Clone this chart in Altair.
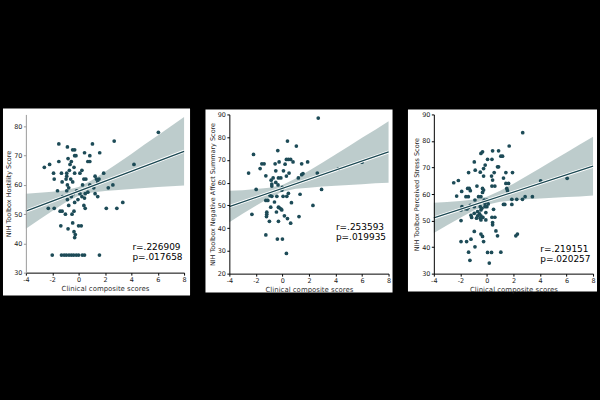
import altair as alt
import pandas as pd

FONT = "DejaVu Sans"
POINT = "#1d4b57"
BAND = "#b9c9c9"
LINE = "#1b4852"

# ---------- Panel A: Hostility ----------
a_x = [6.05, 2.7, -1.5, 1.05, -0.85, -0.45, -0.3, 0.45, 1.6, -0.3, -0.2, 0.85, -0.8, -2.2, -2.6, -1.5,
       -0.55, 0.7, 0.85, -0.65, -0.35, 4.2, -1.9, -1.3, -0.9, -0.9, -0.3, 0.1, 0.25, 1.9, -0.7, -1.85,
       -1.25, -0.95, -0.6, -0.45, 0.4, 0.55, 1.25, 1.35, 1.55, 1.45, -0.85, -0.75, 0.3, 0.85, 1.15, 2.25,
       2.6, -1.6, -0.9, -0.4, -0.15, 0.1, 0.5, 0.7, 1.25, 1.45, 0.25, -1.2, -0.85, -0.55, -0.05, 0.45,
       -0.3, -2.3, -1.85, -1.4, -1.25, -0.75, 0.4, 0.5, 2.1, 2.9, 3.35, -1.0, -0.5, -0.35, -1.35, -0.8,
       -0.45, 0.0, 0.2, -0.35, -0.25, -0.3,
       -2.0, -1.3, -1.1, -0.93, -0.73, -0.55, -0.38, -0.18, 0.0, 0.28, 0.45, 1.58]
a_y = [78, 75, 74, 74, 73, 72, 72, 71, 71, 70, 70, 70, 69, 67, 66, 68,
       68, 68, 68, 67, 66, 67, 64, 64, 64, 63, 64, 64, 65, 64, 65, 62,
       61, 62, 62, 61, 62, 62, 63, 62, 62, 61, 60, 59, 60, 60, 59, 59,
       60, 58, 58, 57, 58, 57, 57, 57.5, 57, 56, 56, 56, 55, 56, 55, 55.5,
       54, 52, 52, 51, 51, 53, 53, 52, 52, 52, 54, 50, 50, 51, 46, 45,
       47, 46, 46, 44, 43, 42,
       36, 36, 36, 36, 36, 36, 36, 36, 36, 36, 36, 36]
a_bx = [-4, -3, -2, -1, 0, 1, 2, 3, 4, 5, 6, 7, 8]
a_lo = [45.0, 48.1, 51.1, 54.0, 56.3, 57.4, 57.9, 58.3, 58.6, 58.9, 59.3, 59.5, 59.8]
a_hi = [57.0, 57.3, 57.7, 58.2, 59.3, 61.6, 64.5, 67.5, 70.6, 73.8, 76.9, 80.1, 83.2]
a_lx = [-4, 8]
a_ly = [51.0, 71.5]
a_stats = ["r=.226909", "p=.017658"]
a_tx = [4.08, 4.08]
a_ty = [38.8, 35.4]

# ---------- Panel B: Negative Affect ----------
b_x = [2.7, 0.38, 1.05, -0.35, -2.18, 0.3, 0.45, 0.62, -0.25, 0.8, 1.9, -1.55, -1.38, -0.55, 1.45, 0.2,
       -1.68, -0.5, 0.08, -2.55, 0.5, 2.63, 1.55, 1.45, -1.25, 0.3, 1.2, -0.3, -0.12, -0.7, -0.85, -0.5,
       -0.8, -0.8, -0.33, 0.0, -1.98, 2.95, -0.05, 0.45, 1.33, -0.93, -0.8, -0.42, 0.05, 0.33, -1.25, -1.1,
       -0.6, 0.68, 2.3, -0.88, -0.25, -0.12, -0.3, -0.05, -0.45, -1.18, -1.18, -1.2, -2.3, 0.15, 0.38, 1.25,
       -0.98, -0.3, 0.62, -1.25, -0.38, 0.0, 0.3, 4.2, 6.0]
b_y = [88.4, 78.3, 76.1, 74.1, 72.4, 70.2, 70.2, 70.2, 69.1, 69.1, 69.1, 68.3, 68.3, 68.3, 68.3, 68.1,
       66.2, 65.2, 65.2, 64.2, 64.2, 64.2, 64.0, 63.5, 63.0, 62.9, 62.1, 62.1, 62.1, 62.1, 61.1, 60.1,
       59.4, 58.5, 59.0, 57.9, 57.0, 57.0, 56.7, 55.3, 54.9, 54.3, 54.0, 54.0, 54.0, 54.0, 52.2, 52.2,
       51.5, 51.2, 50.0, 49.2, 49.0, 48.5, 49.2, 48.0, 47.1, 47.0, 46.1, 45.1, 46.1, 45.4, 44.2, 45.1,
       43.0, 43.0, 42.2, 37.0, 35.2, 35.2, 28.9, 66.0, 69.0]
b_bx = [-4, -3, -2, -1, 0, 1, 2, 3, 4, 5, 6, 7, 8]
b_lo = [42.6, 46.3, 49.8, 53.3, 56.0, 57.3, 57.8, 58.3, 58.6, 59.0, 59.3, 59.7, 60.0]
b_hi = [56.4, 56.7, 57.2, 57.8, 59.0, 61.8, 65.2, 68.7, 72.4, 76.0, 79.7, 83.3, 87.0]
b_lx = [-4, 8]
b_ly = [49.5, 73.5]
b_stats = ["r=.253593", "p=.019935"]
b_tx = [4.03, 4.03]
b_ty = [40.6, 36.2]

# ---------- Panel C: Perceived Stress ----------
c_x = [2.7, 1.68, -0.45, -0.33, 0.43, 0.88, -0.95, 0.38, 0.05, -1.38, -0.5, 0.55, 1.43, 1.93, -0.13, 0.8,
       0.88, 1.05, 1.18, -0.88, -0.25, 0.35, 0.43, 1.25, -0.25, -2.5, -2.15, 1.43, 1.63, -1.9, -1.45, -1.33,
       -1.25, 0.38, 0.6, -0.33, -0.25, -0.33, 1.5, 1.55, -0.75, -2.28, -1.58, -1.4, -0.63, -0.45, 2.88, 3.43,
       -0.9, -0.2, 0.0, -0.15, 1.88, 2.25, 2.68, 1.35, 1.25, 1.88, -1.88, -0.95, -0.5, -0.15, 0.0, 0.1,
       -1.25, -1.38, -1.65, -1.5, -0.45, -0.38, -0.7, -0.95, 0.5, -1.2, -1.15, -0.55, -0.45, -0.3, -0.08, -1.95,
       -0.7, -0.78, -0.5, -0.45, 0.6, 0.38, -1.95, -0.08, 0.43, 0.43, -0.95, 0.68, 0.8, -0.33, -0.45, 2.18,
       2.3, -0.25, -1.95, -1.53, -1.2, -0.9, -1.38, 0.05, 0.35, 1.05, -1.28, 0.18, 4.05, 6.05]
c_y = [83.1, 78.1, 75.3, 75.9, 76.3, 76.3, 72.1, 73.1, 73.1, 68.1, 68.25, 68.1, 68.1, 68.1, 70.9, 70.25,
       70.25, 74.25, 74.25, 69.0, 66.75, 66.75, 65.25, 66.0, 69.6, 64.25, 65.1, 64.0, 64.0, 61.0, 62.1, 62.1,
       61.25, 63.0, 63.0, 62.1, 61.5, 60.6, 62.1, 61.25, 63.0, 59.25, 59.0, 59.0, 59.0, 59.0, 59.0, 59.0,
       57.75, 57.75, 57.75, 56.5, 58.0, 58.0, 58.0, 56.1, 56.1, 56.1, 55.25, 55.25, 55.25, 55.25, 55.25, 56.25,
       55.75, 55.0, 54.5, 54.4, 54.0, 54.6, 53.4, 52.75, 54.25, 52.0, 51.2, 52.5, 51.8, 51.2, 53.0, 54.0,
       51.75, 50.9, 50.9, 50.25, 51.25, 51.25, 50.0, 50.25, 49.25, 48.4, 45.9, 46.1, 44.25, 44.0, 44.9, 44.25,
       44.9, 42.1, 42.1, 42.1, 43.0, 40.1, 38.1, 38.0, 38.0, 38.1, 35.0, 34.0, 65.0, 65.9]
c_bx = [-4, -3, -2, -1, 0, 1, 2, 3, 4, 5, 6, 7, 8]
c_lo = [45.3, 48.2, 51.1, 53.8, 56.0, 57.1, 57.6, 58.0, 58.3, 58.6, 58.85, 59.1, 59.4]
c_hi = [56.7, 57.0, 57.4, 57.9, 59.0, 61.2, 63.9, 66.8, 69.7, 72.7, 75.65, 78.7, 81.6]
c_lx = [-4, 8]
c_ly = [51.0, 70.5]
c_stats = ["r=.219151", "p=.020257"]
c_tx = [4.03, 4.03]
c_ty = [39.4, 35.6]

x_ticks = [-4, -2, 0, 2, 4, 6, 8]


def panel(xs, ys, bx, blo, bhi, lx, ly, stats, tx, ty, ydom, yticks, ytitle,
          w, h, pad_l, pad_r, pad_t, pad_b, ydomain_color="black"):
    pts = pd.DataFrame({"x": xs, "y": ys})
    band = pd.DataFrame({"x": bx, "lo": blo, "hi": bhi})
    line = pd.DataFrame({"x": lx, "y": ly})
    txt = pd.DataFrame({"x": tx, "y": ty, "t": stats})

    xs_ = alt.Scale(domain=[-4, 8], nice=False, zero=False)
    ys_ = alt.Scale(domain=ydom, nice=False, zero=False)
    xax = alt.Axis(values=x_ticks, title="Clinical composite scores", grid=False, zindex=1,
                   labelExpr="datum.value", domainColor="black", tickColor="black",
                   labelOverlap=False, labelFlush=False, titleColor="#333333",
                   labelColor="#222222", titleFontSize=7, titlePadding=1.5)
    yax = alt.Axis(values=yticks, title=ytitle, grid=False, zindex=1,
                   labelExpr="datum.value", domainColor=ydomain_color, tickColor=ydomain_color,
                   labelOverlap=False, labelFlush=False, titleColor="#222222",
                   labelColor="#222222")

    bg = alt.Chart(pd.DataFrame({"k": [0]})).mark_rect(fill="white").encode(
        x=alt.value(-pad_l), x2=alt.value(w + pad_r),
        y=alt.value(-pad_t), y2=alt.value(h + pad_b))
    area = alt.Chart(band).mark_area(color=BAND, opacity=0.95).encode(
        x=alt.X("x:Q", scale=xs_, axis=xax),
        y=alt.Y("lo:Q", scale=ys_, axis=yax),
        y2="hi:Q")
    dots = alt.Chart(pts).mark_circle(color=POINT, size=14, opacity=1).encode(
        x=alt.X("x:Q", scale=xs_, axis=xax), y=alt.Y("y:Q", scale=ys_, axis=yax))
    halo = alt.Chart(line).mark_line(color="white", strokeWidth=3.2).encode(
        x=alt.X("x:Q", scale=xs_, axis=xax), y=alt.Y("y:Q", scale=ys_, axis=yax))
    reg = alt.Chart(line).mark_line(color=LINE, strokeWidth=1.3).encode(
        x=alt.X("x:Q", scale=xs_, axis=xax), y=alt.Y("y:Q", scale=ys_, axis=yax))
    lab = alt.Chart(txt).mark_text(align="left", baseline="middle", font=FONT,
                                   fontSize=9, color="black").encode(
        x=alt.X("x:Q", scale=xs_, axis=xax), y=alt.Y("y:Q", scale=ys_, axis=yax), text="t:N")
    return alt.layer(bg, area, dots, halo, reg, lab).properties(width=w, height=h)


pA = panel(a_x, a_y, a_bx, a_lo, a_hi, a_lx, a_ly, a_stats, a_tx, a_ty,
           [30, 84.1], [30, 40, 50, 60, 70, 80], "NIH Toolbox Hostility Score",
           159, 159, 23, 6, 6, 23, ydomain_color="#999999")
pB = panel(b_x, b_y, b_bx, b_lo, b_hi, b_lx, b_ly, b_stats, b_tx, b_ty,
           [20, 90], [20, 30, 40, 50, 60, 70, 80, 90],
           "NIH Toolbox Negative Affect Summary Score",
           160, 160, 24, 4, 5, 19)
pC = panel(c_x, c_y, c_bx, c_lo, c_hi, c_lx, c_ly, c_stats, c_tx, c_ty,
           [30, 90], [30, 40, 50, 60, 70, 80, 90], "NIH Toolbox Perceived Stress Score",
           160, 160, 26, 4, 5, 18)

chart = alt.hconcat(pA, pB, pC, spacing=45.5, bounds="flush").properties(
    background="black",
    padding={"left": 3, "top": 108, "right": 0, "bottom": 104},
).configure_view(stroke=None).configure_axis(
    labelFont=FONT, titleFont=FONT, labelFontSize=6.5, titleFontSize=6.5,
    titleFontWeight="normal", labelColor="#222222", titleColor="#222222",
    tickSize=2.5, labelPadding=1.5, titlePadding=2, domainWidth=1,
    labelOverlap=False,
)

chart.save("out.html", embed_options={"renderer": "svg", "actions": False})
